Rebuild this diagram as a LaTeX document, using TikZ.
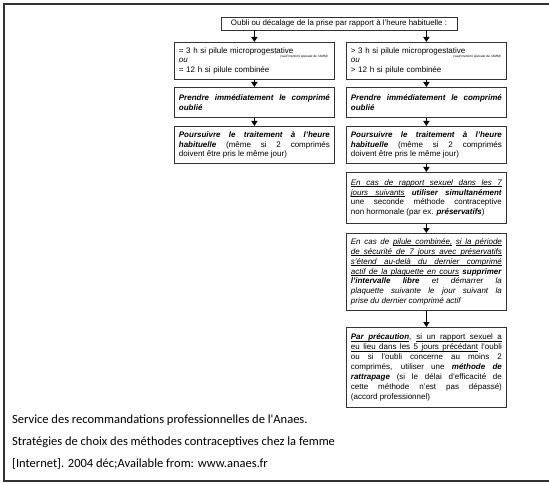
\documentclass[tikz,border=0pt]{standalone}
\usepackage{fontspec}
\setmainfont{Liberation Sans}
\newfontfamily\footfont{Carlito}
\usetikzlibrary{arrows.meta}
\newcommand{\bfit}[1]{\textbf{\textit{#1}}}
% underline word by word, so that lines can still be justified
\makeatletter
\def\undl#1{\undl@a#1 \@nil}
\def\undl@a#1 #2\@nil{\undl@w{#1}\ifx\relax#2\relax\else\undl@s\undl@a#2\@nil\fi}
\def\undl@w#1{\setbox0\hbox{#1}\rlap{\vrule height -1.1pt depth 1.6pt width \wd0}\box0\relax}
\def\undl@s{\leaders\hrule height -1.1pt depth 1.6pt\hskip\fontdimen2\font plus\fontdimen3\font minus\fontdimen4\font}
\makeatother

\begin{document}
\begin{tikzpicture}[x=1pt, y=-1pt,
    box/.style={draw=black!80, line width=0.8pt, anchor=north west, text width=151pt,
        inner xsep=4.5pt, inner ysep=3pt, align=justify, font=\fontsize{8}{9.9}\selectfont},
    note/.style={anchor=east, inner sep=0pt, font=\fontsize{3.2}{4}\selectfont\itshape},
    arr/.style={-{Triangle[length=5pt, width=6pt]}, line width=1.5pt}]
    \useasboundingbox (0,0) rectangle (549,484);

    % Frame
    \draw[black!80, line width=1.5pt] (549,4) -- (4,4) -- (4,481) -- (549,481);

    % Draw nodes
    \node[draw=black!80, line width=0.8pt, minimum width=236pt, minimum height=13pt, inner sep=1pt,
        font=\fontsize{7.9}{9}\selectfont] (title) at (339,23.5)
        {Oubli ou décalage de la prise par rapport à l'heure habituelle :};

    \node[box, align=left, minimum height=37pt] (l1) at (174,42)
        {= 3 h si pilule microprogestative\\ \textit{ou}\\ = 12 h si pilule combinée};
    \node[box, minimum height=30pt] (l2) at (174,87)
        {\bfit{Prendre immédiatement le comprimé}\linebreak \bfit{oublié}};
    \node[box, minimum height=37pt] (l3) at (174,126)
        {\bfit{Poursuivre le traitement à l'heure}\linebreak \bfit{habituelle} (même si 2 comprimés\linebreak doivent être pris le même jour)};

    \node[box, align=left, minimum height=37pt] (r1) at (346,42)
        {> 3 h si pilule microprogestative\\ \textit{ou}\\ > 12 h si pilule combinée};
    \node[box, minimum height=30pt] (r2) at (346,87)
        {\bfit{Prendre immédiatement le comprimé}\linebreak \bfit{oublié}};
    \node[box, minimum height=37pt] (r3) at (346,126)
        {\bfit{Poursuivre le traitement à l'heure}\linebreak \bfit{habituelle} (même si 2 comprimés\linebreak doivent être pris le même jour)};
    \node[box, minimum height=51pt] (r4) at (346,172)
        {\textit{\undl{En cas de rapport sexuel dans les 7}}\linebreak
         \textit{\undl{jours suivants}} \bfit{utiliser simultanément}\linebreak
         une seconde méthode contraceptive\linebreak
         non hormonale (par ex. \bfit{préservatifs})};
    \node[box, minimum height=77pt] (r5) at (346,233)
        {\textit{En cas de \undl{pilule combinée,} \undl{si la période}}\linebreak
         \textit{\undl{de sécurité de 7 jours avec préservatifs}}\linebreak
         \textit{\undl{s'étend au-delà du dernier comprimé}}\linebreak
         \textit{\undl{actif de la plaquette en cours}} \bfit{supprimer}\linebreak
         \bfit{l'intervalle libre} \textit{et démarrer la}\linebreak
         \textit{plaquette suivante le jour suivant la}\linebreak
         \textit{prise du dernier comprimé actif}};
    \node[box, minimum height=80pt] (r6) at (346,327)
        {\bfit{\undl{Par précaution}}, \undl{si un rapport sexuel a}\linebreak
         \undl{eu lieu dans les 5 jours précédant} l'oubli\linebreak
         ou si l'oubli concerne au moins 2\linebreak
         comprimés, utiliser une \bfit{méthode de}\linebreak
         \bfit{rattrapage} (si le délai d'efficacité de\linebreak
         cette méthode n'est pas dépassé)\linebreak
         (accord professionnel)};

    % Small notes
    \node[note] (ln) at (328,57) {(sauf mention spéciale de l'AMM)};
    \node[note] (rn) at (501,57) {(sauf mention spéciale de l'AMM)};

    % Draw connections
    \draw[arr] (title.south -| l1.north) -- (l1.north);
    \draw[arr] (title.south -| r1.north) -- (r1.north);
    \draw[arr] (l1) -- (l2);
    \draw[arr] (l2) -- (l3);
    \draw[arr] (r1) -- (r2);
    \draw[arr] (r2) -- (r3);
    \draw[arr] (r3) -- (r4);
    \draw[arr] (r4) -- (r5);
    \draw[arr] (r5) -- (r6);

    % Source
    \node[anchor=north west, align=left, inner sep=0pt, font=\footfont\fontsize{12.5}{22}\selectfont] (src) at (12,415)
        {Service des recommandations professionnelles de l'Anaes.\\
         Stratégies de choix des méthodes contraceptives chez la femme\\
         {[Internet]}. 2004 déc;Available from: www.anaes.fr};
\end{tikzpicture}
\end{document}
